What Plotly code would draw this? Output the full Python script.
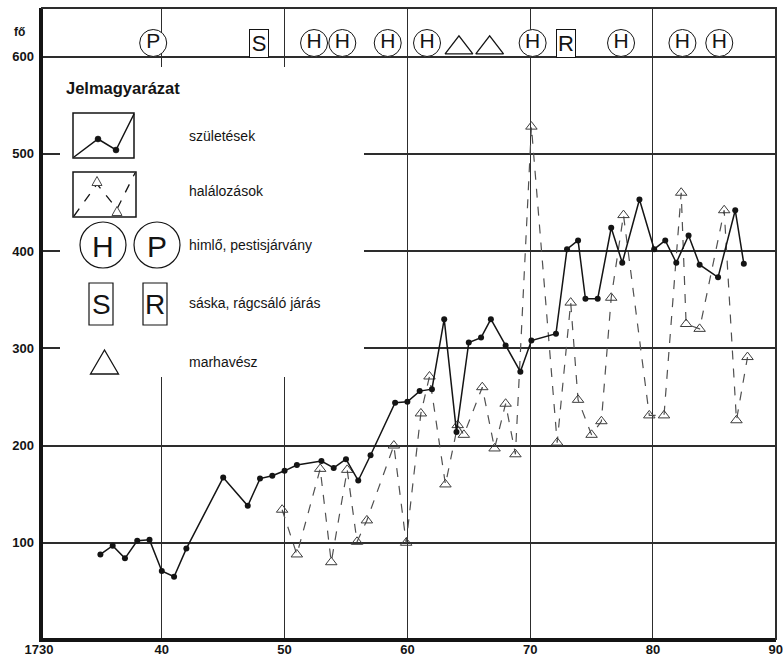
import plotly.graph_objects as go

# births (solid line, dots)
birth_years = [1735, 1736, 1737, 1738, 1739, 1740, 1741, 1742, 1745, 1747, 1748, 1749,
               1750, 1751, 1753, 1754, 1755, 1756, 1757, 1759, 1760, 1761, 1762, 1763,
               1764, 1765, 1766, 1766.8, 1768, 1769.2, 1770.1, 1772.1, 1773, 1773.9,
               1774.5, 1775.5, 1776.6, 1777.5, 1778.9, 1780.1, 1781, 1781.9, 1782.9,
               1783.8, 1785.3, 1786.7, 1787.4]
births = [88, 97, 84, 102, 103, 71, 65, 94, 167, 138, 166, 169,
          174, 180, 184, 177, 186, 164, 190, 244, 245, 256, 258, 330,
          214, 306, 311, 330, 303, 276, 308, 315, 402, 411,
          351, 351, 424, 388, 453, 402, 411, 388, 416,
          386, 373, 442, 387]

# deaths (dashed line, open triangles)
death_years = [1749.8, 1751, 1752.9, 1753.8, 1755.1, 1755.9, 1756.7, 1758.9, 1759.9,
               1761.1, 1761.8, 1763.1, 1764.1, 1764.6, 1766.1, 1767.1, 1768, 1768.8,
               1770.1, 1772.2, 1773.3, 1773.9, 1775, 1775.8, 1776.6, 1777.6, 1779.7,
               1780.9, 1782.3, 1782.7, 1783.8, 1785.8, 1786.8, 1787.7]
deaths = [134, 88, 176, 80, 175, 101, 123, 200, 100,
          233, 271, 160, 221, 211, 260, 197, 243, 191,
          528, 203, 347, 247, 211, 225, 352, 437, 231,
          231, 460, 325, 320, 442, 226, 291]

# events in the top band
circle_years = [1739.3, 1752.4, 1754.7, 1758.4, 1761.6, 1770.2, 1777.4, 1782.4, 1785.4]
circle_labels = ['P', 'H', 'H', 'H', 'H', 'H', 'H', 'H', 'H']
box_years = [1747.9, 1772.9]
box_labels = ['S', 'R']
cattle_years = [1764.2, 1766.7]
EVENT_LEVEL = 614

x_ticks = [1730, 1740, 1750, 1760, 1770, 1780, 1790]
x_tick_text = ['1730', '40', '50', '60', '70', '80', '90']
y_ticks = [100, 200, 300, 400, 500, 600]

W, H = 783, 659
L, R, T, B = 39, 7, 8, 19
PW, PH = W - L - R, H - T - B
FONT = 'Liberation Sans'
INK = 'rgb(20,20,20)'
GRID = 'rgb(45,45,45)'


def px(x):
    return (x - L) / PW


def py(y):
    return (H - B - y) / PH


fig = go.Figure()

fig.add_trace(go.Scatter(x=death_years, y=deaths, mode='lines+markers',
                         line=dict(color='rgb(80,80,80)', width=1.2, dash='dash'),
                         marker=dict(symbol='triangle-up-open', size=10,
                                     color='rgb(60,60,60)', line=dict(width=1)),
                         hoverinfo='skip'))
fig.add_trace(go.Scatter(x=birth_years, y=births, mode='lines+markers',
                         line=dict(color=INK, width=1.5),
                         marker=dict(symbol='circle', size=6, color=INK),
                         hoverinfo='skip'))

fig.add_trace(go.Scatter(x=circle_years, y=[EVENT_LEVEL] * len(circle_years),
                         mode='markers+text', text=circle_labels,
                         textposition='middle center',
                         textfont=dict(family=FONT, size=21, color=INK),
                         marker=dict(symbol='circle', size=27, color='white',
                                     line=dict(color=INK, width=1)),
                         hoverinfo='skip', cliponaxis=False))
fig.add_trace(go.Scatter(x=cattle_years, y=[EVENT_LEVEL - 5] * len(cattle_years),
                         mode='markers',
                         marker=dict(symbol='triangle-up-open', size=24, color=INK,
                                     line=dict(width=1.3)),
                         hoverinfo='skip', cliponaxis=False))
for yr, lab in zip(box_years, box_labels):
    fig.add_annotation(x=yr, y=EVENT_LEVEL, text=lab, showarrow=False,
                       font=dict(family=FONT, size=22, color=INK),
                       bordercolor=INK, borderwidth=1, borderpad=1,
                       bgcolor='white', width=16)

shapes = []
# legend background hides the grid
shapes.append(dict(type='rect', xref='paper', yref='paper', layer='above',
                   x0=px(60), x1=px(364), y0=py(377), y1=py(67),
                   fillcolor='white', line=dict(width=0)))
# frame
shapes.append(dict(type='line', xref='paper', yref='paper', layer='above',
                   x0=px(41), x1=px(41), y0=py(642), y1=py(8),
                   line=dict(color=INK, width=4)))
shapes.append(dict(type='line', xref='paper', yref='paper', layer='above',
                   x0=px(39), x1=px(776), y0=py(640), y1=py(640),
                   line=dict(color=INK, width=4)))
shapes.append(dict(type='line', xref='paper', yref='paper', layer='above',
                   x0=px(41), x1=px(777), y0=py(8), y1=py(8),
                   line=dict(color=GRID, width=2)))
shapes.append(dict(type='line', xref='paper', yref='paper', layer='above',
                   x0=px(776), x1=px(776), y0=py(640), y1=py(8),
                   line=dict(color=GRID, width=2)))


def pxpath(points):
    return 'M ' + ' L '.join(f'{px(a):.5f},{py(b):.5f}' for a, b in points)


def tri(cx, cy, w, h):
    return pxpath([(cx - w / 2, cy + h / 2), (cx, cy - h / 2), (cx + w / 2, cy + h / 2)]) + ' Z'


def box(x0, y0, x1, y1, width=1.5):
    return dict(type='rect', xref='paper', yref='paper', layer='above',
                x0=px(x0), x1=px(x1), y0=py(y1), y1=py(y0),
                line=dict(color=INK, width=width), fillcolor='white')


def ring(cx, cy, r, color=INK, fill='white', width=1.2):
    return dict(type='circle', xref='paper', yref='paper', layer='above',
                x0=px(cx - r), x1=px(cx + r), y0=py(cy + r), y1=py(cy - r),
                line=dict(color=color, width=width), fillcolor=fill)


# legend sample: births
shapes.append(box(73, 113, 134, 158))
shapes.append(dict(type='path', xref='paper', yref='paper', layer='above',
                   path=pxpath([(74, 157), (98, 139), (116, 150), (134, 114)]),
                   line=dict(color=INK, width=1.5)))
shapes.append(ring(98, 139, 3, fill=INK, width=0.5))
shapes.append(ring(116, 150, 3, fill=INK, width=0.5))
# legend sample: deaths
shapes.append(box(73, 172, 136, 217))
shapes.append(dict(type='path', xref='paper', yref='paper', layer='above',
                   path=pxpath([(74, 216), (97, 184), (117, 209), (135, 173)]),
                   line=dict(color=INK, width=1.3, dash='dash')))
shapes.append(dict(type='path', xref='paper', yref='paper', layer='above',
                   path=tri(97, 181, 10, 9), fillcolor='white',
                   line=dict(color='rgb(70,70,70)', width=1)))
shapes.append(dict(type='path', xref='paper', yref='paper', layer='above',
                   path=tri(117, 211, 10, 9), fillcolor='white',
                   line=dict(color='rgb(70,70,70)', width=1)))
# legend symbols
shapes.append(ring(103, 245, 23))
shapes.append(ring(157, 245, 23))
shapes.append(box(89, 283, 113, 325, 1.2))
shapes.append(box(143, 283, 167, 325, 1.2))
shapes.append(dict(type='path', xref='paper', yref='paper', layer='above',
                   path=tri(104.5, 362, 28, 24), line=dict(color=INK, width=1.3)))

annotations = [
    dict(x=px(64), y=py(88), text='<b>Jelmagyarázat</b>', xanchor='left',
         font=dict(size=16.5)),
    dict(x=px(187), y=py(136), text='születések', xanchor='left'),
    dict(x=px(187), y=py(191), text='halálozások', xanchor='left'),
    dict(x=px(187), y=py(245), text='himlő, pestisjárvány', xanchor='left'),
    dict(x=px(187), y=py(303), text='sáska, rágcsáló járás', xanchor='left'),
    dict(x=px(187), y=py(362), text='marhavész', xanchor='left'),
    dict(x=px(103), y=py(246), text='H', xanchor='center', font=dict(size=30)),
    dict(x=px(157), y=py(246), text='P', xanchor='center', font=dict(size=30)),
    dict(x=px(101), y=py(304), text='S', xanchor='center', font=dict(size=28)),
    dict(x=px(155), y=py(304), text='R', xanchor='center', font=dict(size=28)),
    dict(x=px(19), y=py(32), text='<b>fő</b>', xanchor='center', font=dict(size=12)),
]
for a in annotations:
    a.setdefault('font', dict(size=14))
    a['font'].setdefault('family', FONT)
    a['font'].setdefault('color', INK)
    a.update(xref='paper', yref='paper', showarrow=False, yanchor='middle')
    fig.add_annotation(**a)

fig.update_layout(
    width=W, height=H,
    margin=dict(l=L, r=R, t=T, b=B),
    paper_bgcolor='white', plot_bgcolor='white',
    showlegend=False, shapes=shapes,
    font=dict(family=FONT, color=INK),
)
fig.update_xaxes(range=[1730, 1790.02], tickvals=x_ticks, ticktext=x_tick_text,
                 showgrid=True, gridcolor=GRID, gridwidth=1.3, zeroline=False,
                 showline=False, ticks='', automargin=False,
                 tickfont=dict(family=FONT, size=13, color=INK, weight='bold'))
fig.update_yaxes(range=[0, 650], tickvals=y_ticks,
                 showgrid=True, gridcolor=GRID, gridwidth=1.6, zeroline=False,
                 showline=False, ticks='', automargin=False, ticklabelstandoff=4,
                 tickfont=dict(family=FONT, size=13, color=INK, weight='bold'))

fig.write_html('out.html', config={'displayModeBar': False},
               post_script="document.body.style.margin='0px';")
